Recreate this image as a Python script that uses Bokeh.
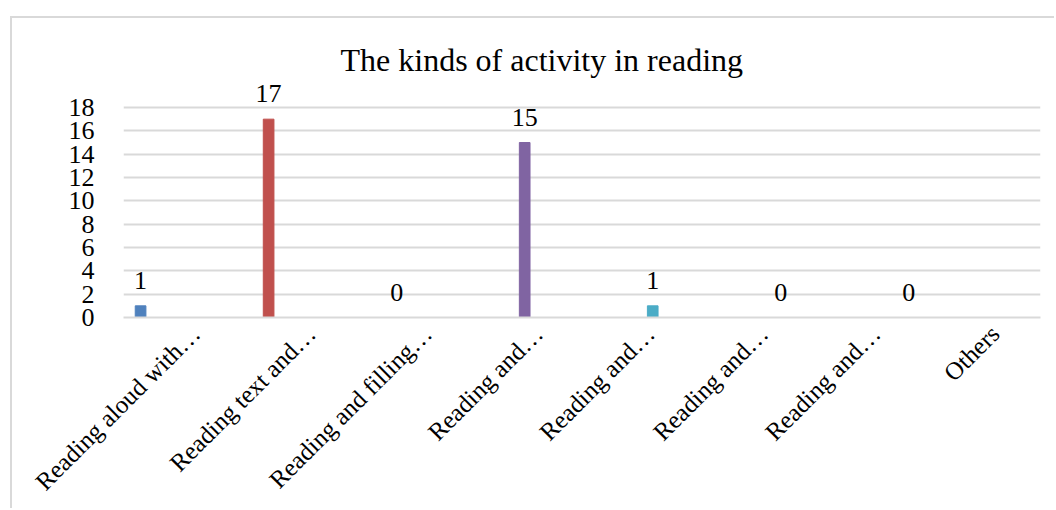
import math
from bokeh.plotting import figure
from bokeh.models import Range1d, FixedTicker, ColumnDataSource, LabelSet
from bokeh.embed import file_html
from bokeh.resources import INLINE

title_text = "The kinds of activity in reading"
categories = ["Reading aloud with…", "Reading text and…", "Reading and filling…",
              "Reading and…", "Reading and…", "Reading and…", "Reading and…", "Others"]
series_values = [1, 17, 0, 15, 1, 0, 0]
series_colors = ["#4F81BD", "#C0504D", "#9BBB59", "#8064A2", "#4BACC6", "#F79646", "#2C4D75"]
y_ticks = [0, 2, 4, 6, 8, 10, 12, 14, 16, 18]

FONT = "Liberation Serif"
n_series = len(series_values)
slot = 0.117   # spacing between series within a cluster (category units)
bar_w = 0.093
cat_px = 114.6
label_dx_px = [15, 16, 17.5, 14, 11, 10, 7.5, 12]   # where each rotated label ends
grid_top = y_ticks[-1]
frame_top_px, zero_px, grid_top_px = 80, 317, 107
y_end = grid_top * (zero_px - frame_top_px) / (zero_px - grid_top_px)  # headroom for value labels

xs = [i + 0.5 + (i - (n_series - 1) / 2) * slot for i in range(n_series)]
src = ColumnDataSource(dict(x=xs, top=series_values, color=series_colors,
                            label=[str(v) for v in series_values]))

p = figure(width=1044, height=492, output_backend="svg", toolbar_location=None,
           x_range=Range1d(0, len(categories)), y_range=Range1d(0, y_end),
           min_border_left=111, min_border_right=16, min_border_top=62, min_border_bottom=193)
p.margin = (16, 0, 0, 10)
p.styles = {"border-top": "2px solid #D9D9D9", "border-left": "2px solid #D9D9D9"}

p.title.text = title_text
p.title.align = "left"
p.title.offset = 217
p.title.standoff = 5
p.title.text_font = FONT
p.title.text_font_size = "32px"
p.title.text_font_style = "normal"
p.title.text_color = "#000000"

p.vbar(x="x", top="top", width=bar_w, color="color", source=src)
p.add_layout(LabelSet(x="x", y="top", text="label", source=src, text_align="center",
                      text_baseline="alphabetic", y_offset=17, text_font=FONT,
                      text_font_size="26px", text_color="#000000"))

p.outline_line_color = None
p.xgrid.grid_line_color = None
p.ygrid.grid_line_color = "#D9D9D9"
p.ygrid.grid_line_width = 2
p.yaxis.ticker = FixedTicker(ticks=y_ticks)
tick_pos = [i + 0.5 + dx / cat_px for i, dx in enumerate(label_dx_px)]
p.xaxis.ticker = FixedTicker(ticks=tick_pos)
p.xaxis.major_label_overrides = {t: c for t, c in zip(tick_pos, categories)}
p.xaxis.major_label_orientation = math.pi / 4

for ax in (p.xaxis, p.yaxis):
    ax.major_tick_line_color = None
    ax.minor_tick_line_color = None
    ax.major_label_text_font = FONT
    ax.major_label_text_font_size = "26px"
    ax.major_label_text_color = "#000000"
p.xaxis.major_label_text_font_size = "25px"
p.yaxis.axis_line_color = None
p.yaxis.major_label_standoff = 23
p.xaxis.axis_line_color = "#D9D9D9"
p.xaxis.axis_line_width = 2
p.xaxis.major_label_standoff = 6

open("out.html", "w").write(file_html(p, INLINE))
